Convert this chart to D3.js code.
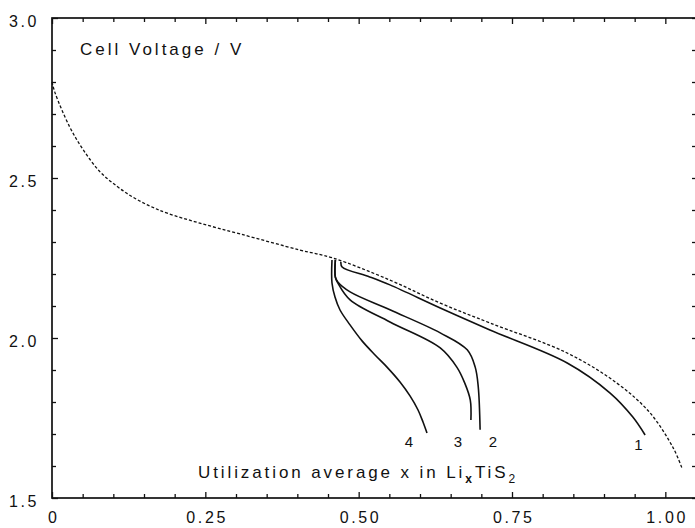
<!DOCTYPE html>
<html>
<head>
<meta charset="utf-8">
<script src="https://cdn.jsdelivr.net/npm/d3@7"></script>
<style>
  body { margin: 0; background: #fff; }
  text { font-family: "Liberation Sans", Arial, sans-serif; fill: #111; }
</style>
</head>
<body>
<div id="chart"></div>
<script>
// --- donnees ---
const xMajor = [0, 0.25, 0.5, 0.75, 1.0]
const xMajorLabels = ['0', '0.25', '0.50', '0.75', '1.00']
const xMinor = [0.05, 0.1, 0.15, 0.2, 0.3, 0.35, 0.4, 0.45, 0.55, 0.6, 0.65, 0.7, 0.8, 0.85, 0.9, 0.95, 1.05]
const yMajor = [1.5, 2.0, 2.5, 3.0]
const yMajorLabels = ['1.5', '2.0', '2.5', '3.0']
const yMinor = [1.6, 1.7, 1.8, 1.9, 2.1, 2.2, 2.3, 2.4, 2.6, 2.7, 2.8, 2.9]

// courbe pointillee
const refX = [0, 0.005, 0.029, 0.051, 0.078, 0.106, 0.132, 0.160, 0.188, 0.241, 0.307, 0.404, 0.458, 0.551, 0.633, 0.714, 0.840, 0.921, 0.975, 1.013, 1.027]
const refV = [2.80, 2.766, 2.659, 2.588, 2.52, 2.474, 2.440, 2.412, 2.390, 2.359, 2.325, 2.275, 2.25, 2.181, 2.109, 2.047, 1.953, 1.859, 1.766, 1.656, 1.594]

// courbes 1 a 4
const c1X = [0.471, 0.473, 0.518, 0.551, 0.633, 0.714, 0.840, 0.910, 0.947, 0.967]
const c1V = [2.238, 2.222, 2.191, 2.166, 2.094, 2.025, 1.922, 1.828, 1.753, 1.697]
const c2X = [0.462, 0.462, 0.466, 0.486, 0.551, 0.633, 0.677, 0.690, 0.695, 0.698]
const c2V = [2.244, 2.19, 2.175, 2.144, 2.088, 2.016, 1.963, 1.909, 1.847, 1.713]
const c3X = [0.462, 0.462, 0.466, 0.486, 0.551, 0.633, 0.660, 0.673, 0.682, 0.683]
const c3V = [2.244, 2.19, 2.172, 2.119, 2.05, 1.969, 1.909, 1.859, 1.806, 1.744]
const c4X = [0.4565, 0.4565, 0.4614, 0.4696, 0.4859, 0.5055, 0.5267, 0.5462, 0.5674, 0.5837, 0.5968, 0.6049, 0.6114]
const c4V = [2.244, 2.172, 2.128, 2.0875, 2.041, 1.991, 1.947, 1.909, 1.8625, 1.819, 1.775, 1.7375, 1.703]
const curveLabels = ['1', '2', '3', '4']
const labelAnchor = [[0.956, 1.65], [0.719, 1.66], [0.662, 1.66], [0.582, 1.66]]

const width = 695, height = 528

const svg = d3.select('#chart')
    .append('svg')
    .attr('width', width)
    .attr('height', height)

const x = d3.scaleLinear().domain([0, 1.05]).range([52, 696])
const y = d3.scaleLinear().domain([1.5, 3.0]).range([498, 18])

// cadre
svg.append('rect')
    .attr('x', x(0)).attr('y', y(3))
    .attr('width', x(1.05) - x(0)).attr('height', y(1.5) - y(3))
    .attr('fill', 'none').attr('stroke', '#111').attr('stroke-width', 1.7)

function styleAxis(g) {
    g.select('.domain').remove()
    g.selectAll('line').attr('stroke', '#111').attr('stroke-width', 1.3)
    g.selectAll('text')
        .style('font-size', '16px')
        .style('letter-spacing', '2.6px')
        .attr('fill', '#111')
}

// axe x bas
svg.append('g')
    .attr('transform', 'translate(0,' + y(1.5) + ')')
    .call(d3.axisBottom(x).tickValues(xMinor).tickSize(-4).tickFormat(''))
    .call(styleAxis)
svg.append('g')
    .attr('transform', 'translate(0,' + y(1.5) + ')')
    .call(d3.axisBottom(x).tickValues(xMajor).tickSize(-6).tickPadding(14)
        .tickFormat((d, i) => xMajorLabels[i]))
    .call(styleAxis)
    .selectAll('text').attr('dx', '1.3px')

// axe x haut
svg.append('g')
    .attr('transform', 'translate(0,' + y(3) + ')')
    .call(d3.axisTop(x).tickValues(xMinor).tickSize(-4).tickFormat(''))
    .call(styleAxis)
svg.append('g')
    .attr('transform', 'translate(0,' + y(3) + ')')
    .call(d3.axisTop(x).tickValues(xMajor).tickSize(-6).tickFormat(''))
    .call(styleAxis)

// axe y gauche
svg.append('g')
    .attr('transform', 'translate(' + x(0) + ',0)')
    .call(d3.axisLeft(y).tickValues(yMinor).tickSize(-4).tickFormat(''))
    .call(styleAxis)
svg.append('g')
    .attr('transform', 'translate(' + x(0) + ',0)')
    .call(d3.axisLeft(y).tickValues(yMajor).tickSize(-6).tickPadding(13)
        .tickFormat((d, i) => yMajorLabels[i]))
    .call(styleAxis)
    .selectAll('text').attr('dy', '0.5em')

// axe y droit
svg.append('g')
    .attr('transform', 'translate(' + x(1.05) + ',0)')
    .call(d3.axisRight(y).tickValues(yMinor.concat(yMajor)).tickSize(-4).tickFormat(''))
    .call(styleAxis)

// courbes
const line = d3.line()
    .x(d => x(d[0]))
    .y(d => y(d[1]))
    .curve(d3.curveCatmullRom.alpha(0.5))

const zip = (a, b) => a.map((v, i) => [v, b[i]])

svg.append('path')
    .datum(zip(refX, refV))
    .attr('d', line)
    .attr('fill', 'none')
    .attr('stroke', '#111')
    .attr('stroke-width', 1.3)
    .attr('stroke-dasharray', '3,2')

const solids = [zip(c1X, c1V), zip(c2X, c2V), zip(c3X, c3V), zip(c4X, c4V)]
svg.append('g')
    .selectAll('path')
    .data(solids)
    .enter()
    .append('path')
    .attr('d', line)
    .attr('fill', 'none')
    .attr('stroke', '#111')
    .attr('stroke-width', 1.6)

svg.append('g')
    .selectAll('text')
    .data(curveLabels)
    .enter()
    .append('text')
    .attr('x', (d, i) => x(labelAnchor[i][0]))
    .attr('y', (d, i) => y(labelAnchor[i][1]))
    .attr('text-anchor', 'middle')
    .style('font-size', '15px')
    .text(d => d)

// titres
svg.append('text')
    .attr('x', 80).attr('y', 55)
    .style('font-size', '17px')
    .style('letter-spacing', '3px')
    .text('Cell Voltage / V')

const xt = svg.append('text')
    .attr('x', 198).attr('y', 478)
    .style('font-size', '17px')
    .style('letter-spacing', '2.9px')
xt.append('tspan').text('Utilization average x in Li')
xt.append('tspan').attr('dy', 5).style('font-size', '12px').style('font-weight', 'bold').text('x')
xt.append('tspan').attr('dy', -5).text('TiS')
xt.append('tspan').attr('dy', 5).style('font-size', '12px').text('2')
</script>
</body>
</html>
